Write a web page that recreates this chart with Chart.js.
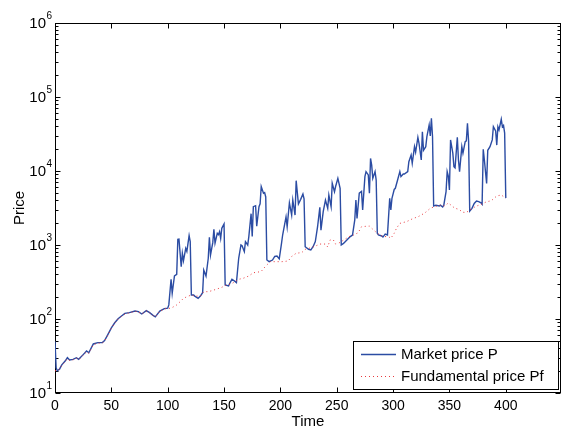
<!DOCTYPE html>
<html><head><meta charset="utf-8">
<script src="https://cdn.jsdelivr.net/npm/chart.js@4"></script>
<style>html,body{margin:0;padding:0;background:#fff;overflow:hidden}#wrap{width:562px;height:428px}</style>
</head><body><div id="wrap"><canvas id="c" width="562" height="428"></canvas></div>
<script>
// ---- data ----
const marketTime = [0,1,2,4,6,9,11,13,16,19,21,25,28,30,34,38,42,44,47,50,53,56,59,62,66,71,74,77,81,84,87,89,93,97,100,
  101,103,104,106,108,109,110,112,113,114,116,117,119,120,121,123,124,127,129,131,132,134,136,137,138,140,141,142,144,145,146,147,148,150,
  151,154,155,157,160,161,163,165,166,168,169,171,172,174,175,176,178,179,181,182,183,185,186,187,188,
  190,193,195,197,199,201,202,205,206,208,210,211,213,214,216,218,220,221,222,225,227,229,231,233,235,236,238,240,242,243,245,246,248,249,251,253,
  254,256,259,262,264,266,267,268,270,272,273,275,276,278,279,280,281,282,284,285,286,287,290,291,293,295,297,298,299,301,302,304,306,307,309,310,
  313,314,316,317,319,320,322,323,325,326,327,329,330,332,333,334,335,336,338,341,342,344,345,347,348,349,350,351,353,354,355,357,358,359,
  361,362,364,365,366,367,368,370,372,374,376,378,379,380,381,383,384,386,388,389,391,392,393,394,396,397,398,399,400];
const marketPrice = [50,22,20,21,24,27,30,28,28.5,30,28.5,33,37,35,46,48,48,51,62,76,89,101,110,119,122,128,126,117,130,122,112,107,128,138,140,
  155,344,222,381,400,1190,1200,509,773,614,902,821,1340,1110,211,211,204,190,204,227,459,381,661,1270,733,1075,1630,1060,1440,1380,1515,1230,1680,1920,
  288,279,302,344,320,310,661,1000,975,813,1110,1000,1300,2650,1300,3300,3400,1800,3300,3600,6170,5000,5100,4460,627,
  595,627,700,710,650,1050,1365,2400,1766,3720,2540,4055,2540,7400,3580,4140,4880,4200,948,875,860,948,1110,1766,3230,1590,2820,4055,3130,4740,3300,6810,5250,6170,7940,5840,
  1000,1050,1170,1300,1365,2180,4055,2290,5010,5300,2970,8400,9800,8850,5010,14800,12000,7940,9800,7550,1440,1365,1325,1280,1400,1365,4270,2970,4270,5630,5840,7550,9800,8400,9100,9100,
  9800,13360,16440,12700,21300,18000,28500,23700,14100,33900,19050,21300,29100,41800,29800,51500,29100,3370,3450,3370,3450,3260,3450,5250,9800,8550,5530,26300,17400,11400,11000,28500,14100,9800,
  21300,17400,24900,25500,44200,25500,2880,3130,3640,3925,3850,3720,3560,19600,14100,6800,19050,21300,26300,39600,34700,22400,39600,35800,50000,39600,41300,32500,4300];
const fundTime = [0,2,4,6,9,11,13,16,19,21,25,28,30,34,38,42,44,47,50,53,56,59,62,66,71,74,77,81,84,87,89,93,97,100,
  103,108,111,114,117,121,124,129,132,136,139,143,148,152,156,160,163,167,172,176,180,183,187,191,196,201,204,207,210,214,219,222,225,228,231,235,237,240,242,244,247,249,252,254,257,261,265,269,
  272,276,279,282,286,291,296,298,301,303,306,312,318,322,328,333,337,340,342,346,349,353,355,358,362,365,368,373,377,379,383,387,392,396,400];
const fundPrice = [20,20,21,23.5,26.5,29,27.5,28,29.5,28,32.5,36,34.5,45,47,47.5,50,61,75,88,100,108,117,121,127,125,117,128,121,111,107,127,137,139,
  140,155,171,190,200,211,204,204,234,234,241,252,268,288,296,320,344,355,381,422,430,440,520,595,595,595,600,610,700,773,790,875,900,930,965,1030,1030,1030,940,1170,1170,1030,1065,1110,1190,1300,1365,1465,
  1766,1790,1800,1630,1440,1300,1300,1230,1440,1680,1960,2070,2290,2400,2700,3130,3300,3370,3450,3370,3700,3300,3130,3050,2770,2750,2970,3300,3500,3580,3850,3950,4600,4740,4300];
const xTickValues = [0,50,100,150,200,250,300,350,400];
const yTickValues = [10,100,1000,10000,100000,1000000];
const yTickExponents = ['1','2','3','4','5','6'];
const seriesNames = ['Market price P','Fundamental price Pf'];
const xTitle = 'Time';
const yTitle = 'Price';

const FONT = "'Liberation Sans', Arial, Helvetica, sans-serif";
const BLUE = '#2b4ca3';
const RED = '#e8383d';

const toXY = (ts, vs) => ts.map((t, i) => ({x: t, y: vs[i]}));

const framePlugin = {
  id: 'frame',
  beforeDatasetsDraw(chart) {
    const ctx = chart.ctx;
    const a = chart.chartArea;
    const xs = chart.scales.x, ys = chart.scales.y;
    const L = Math.round(a.left) + 0.5, R = Math.round(a.right) - 0.5;
    const T = Math.round(a.top) + 0.5, B = Math.round(a.bottom) - 0.5;
    ctx.save();
    ctx.strokeStyle = '#000';
    ctx.lineWidth = 1;
    ctx.strokeRect(L, T, R - L, B - T);
    ctx.beginPath();
    xTickValues.forEach(v => {
      const px = Math.round(xs.getPixelForValue(v)) + 0.5;
      ctx.moveTo(px, B); ctx.lineTo(px, B - 5);
      ctx.moveTo(px, T); ctx.lineTo(px, T + 5);
    });
    for (let d = 1; d <= 6; d++) {
      for (let m = 1; m <= (d === 6 ? 1 : 9); m++) {
        const v = m * Math.pow(10, d);
        const py = Math.round(ys.getPixelForValue(v)) + 0.5;
        const len = m === 1 ? 5 : 3;
        ctx.moveTo(L, py); ctx.lineTo(L + len, py);
        ctx.moveTo(R, py); ctx.lineTo(R - len, py);
      }
    }
    ctx.stroke();
    ctx.fillStyle = '#000';
    yTickValues.forEach((v, i) => {
      const py = ys.getPixelForValue(v);
      ctx.font = '15px ' + FONT;
      ctx.textAlign = 'right';
      ctx.textBaseline = 'middle';
      ctx.fillText('10', 46, py + 1);
      ctx.font = '10px ' + FONT;
      ctx.textAlign = 'left';
      ctx.fillText(yTickExponents[i], 46.5, py - 7);
    });
    ctx.restore();
  },
  afterDatasetsDraw(chart) {
    const ctx = chart.ctx;
    ctx.save();
    const lx = 353.5, ly = 341.5, lw = 205, lh = 48;
    ctx.fillStyle = '#fff';
    ctx.fillRect(lx, ly, lw, lh);
    ctx.strokeStyle = '#000';
    ctx.lineWidth = 1;
    ctx.strokeRect(lx, ly, lw, lh);
    ctx.lineWidth = 1.3;
    ctx.strokeStyle = BLUE;
    ctx.beginPath(); ctx.moveTo(361, 354.5); ctx.lineTo(396, 354.5); ctx.stroke();
    ctx.lineWidth = 1;
    ctx.strokeStyle = RED;
    ctx.setLineDash([1, 3]);
    ctx.beginPath(); ctx.moveTo(361, 376.5); ctx.lineTo(396, 376.5); ctx.stroke();
    ctx.setLineDash([]);
    ctx.fillStyle = '#000';
    ctx.font = '15px ' + FONT;
    ctx.textAlign = 'left';
    ctx.textBaseline = 'middle';
    ctx.fillText(seriesNames[0], 401, 355);
    ctx.fillText(seriesNames[1], 401, 377);
    ctx.restore();
  }
};

new Chart(document.getElementById('c'), {
  type: 'line',
  data: {
    datasets: [
      {label: seriesNames[1], data: toXY(fundTime, fundPrice), borderColor: RED, borderWidth: 1,
       borderDash: [1, 3], pointRadius: 0, fill: false, tension: 0},
      {label: seriesNames[0], data: toXY(marketTime, marketPrice), borderColor: BLUE, borderWidth: 1.4,
       pointRadius: 0, fill: false, tension: 0}
    ]
  },
  options: {
    responsive: false,
    animation: false,
    devicePixelRatio: 1,
    layout: {padding: {top: 23, right: 1, left: 0, bottom: 0}},
    plugins: {legend: {display: false}, tooltip: {enabled: false}},
    scales: {
      x: {
        type: 'linear', min: 0, max: 449,
        afterBuildTicks: s => { s.ticks = xTickValues.map(v => ({value: v})); },
        afterFit: s => { s.height = 35; },
        grid: {display: false, drawTicks: false},
        border: {display: false},
        ticks: {font: {size: 14, family: FONT}, color: '#000', padding: 5, maxRotation: 0, autoSkip: false},
        title: {display: true, text: xTitle, color: '#000', font: {size: 15, family: FONT}, padding: {top: 0, bottom: -3}}
      },
      y: {
        type: 'logarithmic', min: 10, max: 1000000,
        afterFit: s => { s.width = 55; },
        grid: {display: false, drawTicks: false},
        border: {display: false},
        ticks: {display: false},
        title: {display: true, text: yTitle, color: '#000', font: {size: 15, family: FONT}, padding: {top: 11, bottom: 0}}
      }
    }
  },
  plugins: [framePlugin]
});
</script>
</body></html>
